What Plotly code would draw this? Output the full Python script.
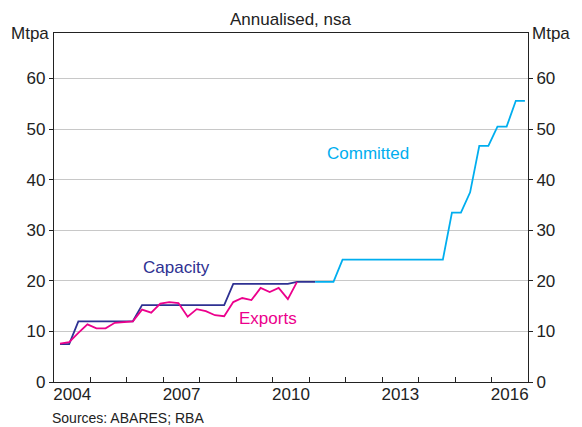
import plotly.graph_objects as go

quarters = [f"{y}-{m:02d}-01" for y in range(2004, 2017) for m in (3, 6, 9, 12)]

exports = [7.6, 7.9, 9.7, 11.4, 10.6, 10.6, 11.7, 11.9, 12.0, 14.3, 13.7, 15.5,
           15.8, 15.6, 12.9, 14.4, 14.0, 13.2, 13.0, 15.8, 16.6, 16.2, 18.6, 17.8,
           18.6, 16.4, 19.8]
capacity = [7.5, 7.5] + [12.0] * 7 + [15.2] * 10 + [19.4] * 7 + [19.8] * 3
committed = [19.8] * 3 + [24.2] * 12 + [33.5, 33.5, 37.5, 46.7, 46.7, 50.5, 50.5, 55.6, 55.6]

exports_x = quarters[:len(exports)]
capacity_x = quarters[:len(capacity)]
committed_x = quarters[len(capacity) - 1:len(capacity) - 1 + len(committed)]

label_years = [2004, 2007, 2010, 2013, 2016]
yticks = [0, 10, 20, 30, 40, 50, 60]

C_CAP = "#2E3192"
C_EXP = "#EC008C"
C_COM = "#00AEEF"
FONT = "Liberation Sans, Arial, sans-serif"
TXT = "#222222"

fig = go.Figure()
fig.add_trace(go.Scatter(x=capacity_x, y=capacity, mode="lines",
                         line=dict(color=C_CAP, width=1.8), showlegend=False))
fig.add_trace(go.Scatter(x=committed_x, y=committed, mode="lines",
                         line=dict(color=C_COM, width=1.8), showlegend=False))
fig.add_trace(go.Scatter(x=exports_x, y=exports, mode="lines",
                         line=dict(color=C_EXP, width=1.8), showlegend=False))
# invisible trace to anchor secondary axes
fig.add_trace(go.Scatter(x=[f"{label_years[0]}-07-02"], y=[None], xaxis="x2", yaxis="y2",
                         mode="lines", showlegend=False, hoverinfo="skip"))

xr = ["2004-01-01", "2017-01-01"]
yr = [0, 69]

fig.update_layout(
    width=574, height=419,
    margin=dict(l=46, r=54, t=25, b=45),
    paper_bgcolor="white", plot_bgcolor="white",
    font=dict(family=FONT, size=17, color=TXT),
    xaxis=dict(type="date", range=xr, dtick="M12", tick0="2004-01-01",
               ticks="inside", ticklen=5, tickcolor=TXT,
               showticklabels=False, showgrid=False, zeroline=False,
               showline=True, linecolor=TXT, linewidth=1.2, mirror=True),
    xaxis2=dict(type="date", range=xr, overlaying="x", side="bottom",
                tickvals=[f"{y}-07-02" for y in label_years],
                ticktext=[str(y) for y in label_years],
                ticks="", showgrid=False, showline=False, zeroline=False,
                tickfont=dict(size=17, color=TXT)),
    yaxis=dict(range=yr, tickvals=yticks, ticks="outside", ticklen=4,
               tickcolor=TXT, showgrid=True, gridcolor="#C8C8C8", gridwidth=1,
               zeroline=False, showline=True, linecolor=TXT, linewidth=1.2,
               mirror=True, tickfont=dict(size=17, color=TXT)),
    yaxis2=dict(range=yr, tickvals=yticks, overlaying="y", side="right",
                ticks="outside", ticklen=4, tickcolor=TXT, showgrid=False,
                zeroline=False, showline=False, tickfont=dict(size=17, color=TXT)),
    annotations=[
        dict(text="Annualised, nsa", xref="paper", yref="paper", x=0.5, y=1,
             yshift=14, showarrow=False, font=dict(size=17, color=TXT),
             yanchor="middle"),
        dict(text="Mtpa", xref="paper", yref="paper", x=0, y=1, xanchor="right",
             xshift=-3, yanchor="middle", showarrow=False, font=dict(size=17, color=TXT)),
        dict(text="Mtpa", xref="paper", yref="paper", x=1, y=1, xanchor="left",
             xshift=2, yanchor="middle", showarrow=False, font=dict(size=17, color=TXT)),
        dict(text="Committed", x="2012-08-15", y=45.1, showarrow=False,
             font=dict(size=17, color=C_COM)),
        dict(text="Capacity", x="2007-05-15", y=22.7, showarrow=False,
             font=dict(size=17, color=C_CAP)),
        dict(text="Exports", x="2009-11-10", y=12.6, showarrow=False,
             font=dict(size=17, color=C_EXP)),
        dict(text="Sources: ABARES; RBA", xref="paper", yref="paper", x=0, y=0,
             xanchor="left", xshift=-4, yshift=-36, yanchor="middle", showarrow=False,
             font=dict(size=14, color=TXT)),
    ],
)

fig.write_html("out.html")
